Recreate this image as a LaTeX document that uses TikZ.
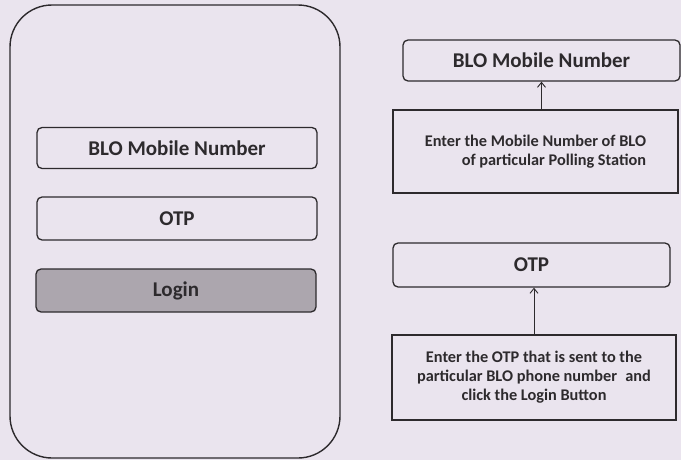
\documentclass[tikz,border=0pt]{standalone}
\usepackage{fontspec}
\setmainfont{Carlito}
\usetikzlibrary{positioning,arrows.meta}
\definecolor{paper}{RGB}{234,228,238}
\definecolor{ink}{RGB}{45,42,45}
\definecolor{btn}{RGB}{172,166,174}
\begin{document}
\begin{tikzpicture}[x=1pt,y=-1pt]
\tikzstyle{field}=[draw=ink, line width=1.3pt, rounded corners=5pt, minimum width=280pt, minimum height=41pt, inner sep=0pt, text=ink, font=\fontsize{21}{24}\selectfont\bfseries]
\tikzstyle{note}=[draw=ink, line width=1.3pt, inner sep=0pt, text=ink, font=\fontsize{16.3}{19}\selectfont\bfseries]
\tikzstyle{link}=[-{Straight Barb[length=5pt,width=8pt]}, ink, line width=0.9pt]
\useasboundingbox (0,0) rectangle (681,460);
\fill [paper] (0,0) rectangle (681,460);
\node [draw=ink, line width=1.4pt, rounded corners=42pt, minimum width=330pt, minimum height=453pt, inner sep=0pt] (phone) at (175,231.5) {};
\node [field] (mobile) at (177,148) {BLO Mobile Number};
\node [field, minimum height=43pt] (otp) at (177,218.5) {OTP};
\node [field, minimum height=43pt, fill=btn] (login) at (176,290.5) {Login};
\node [field, minimum width=277pt] (rmobile) at (541.5,60.5) {BLO Mobile Number};
\node [note, minimum width=285pt, minimum height=83pt, align=right] (mobilenote) at (535.5,151.5) {Enter the Mobile Number of BLO\\of particular Polling Station};
\draw [link] (rmobile.south |- mobilenote.north) -- (rmobile.south);
\node [field, minimum width=277pt, minimum height=44pt] (rotp) at (531.5,265) {OTP};
\node [note, minimum width=284pt, minimum height=85pt, align=center] (otpnote) at (534,377.5) {Enter the OTP that is sent to the\\particular BLO phone number\enspace and\\click the Login Button};
\draw [link] (otpnote.north) -- (otpnote.north |- rotp.south);
\end{tikzpicture}
\end{document}
